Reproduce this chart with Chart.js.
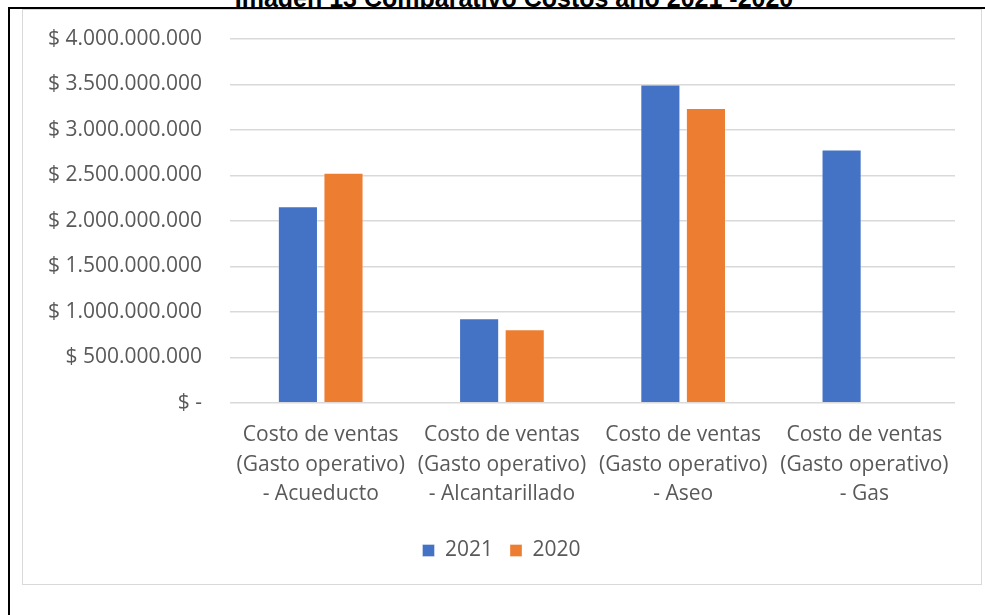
<!DOCTYPE html>
<html>
<head>
<meta charset="utf-8">
<script src="https://cdn.jsdelivr.net/npm/chart.js@4/dist/chart.umd.min.js"></script>
<style>
  html, body { margin: 0; padding: 0; background: #fff; }
  body { width: 985px; height: 615px; position: relative; overflow: hidden; }
  #title { position: absolute; left: 0; width: 1028px; top: -16px; text-align: center;
           font: bold 25px "Liberation Sans", Arial, sans-serif; color: #000; line-height: 28px; white-space: nowrap; }
  #topline { position: absolute; left: 8px; top: 7px; width: 977px; height: 2px; background: #000; }
  #leftline { position: absolute; left: 8px; top: 7px; width: 2px; height: 608px; background: #000; }
  #frame { position: absolute; left: 22px; top: 9px; width: 960px; height: 576px; border: 1px solid #d9d9d9; box-sizing: border-box; background: #fff; }
  #wrap { position: absolute; left: 23px; top: 10px; width: 958px; height: 573px; }
</style>
</head>
<body>
<div id="title">Imagen 13 Comparativo Costos año 2021 -2020</div>
<div id="topline"></div>
<div id="leftline"></div>
<div id="frame"></div>
<div id="wrap"><canvas id="c"></canvas></div>
<script>
const categories = [
  ["Costo de ventas", "(Gasto operativo)", "- Acueducto"],
  ["Costo de ventas", "(Gasto operativo)", "- Alcantarillado"],
  ["Costo de ventas", "(Gasto operativo)", "- Aseo"],
  ["Costo de ventas", "(Gasto operativo)", "- Gas"]
];
const seriesNames = ["2021", "2020"];
const values2021 = [2160000000, 930000000, 3500000000, 2785000000];
const values2020 = [2530000000, 810000000, 3240000000, null];
const yTicks = [0, 500000000, 1000000000, 1500000000, 2000000000, 2500000000, 3000000000, 3500000000, 4000000000];

function fmt(v) {
  if (v === 0) return "$ -";
  return "$ " + Math.round(v).toString().replace(/\B(?=(\d{3})+(?!\d))/g, ".");
}

const FONT = { family: "'Open Sans', sans-serif", size: 21 };
const XFONT = { family: "'Open Sans', sans-serif", size: 21, lineHeight: 1.4 };
const TXT = "#595959";

new Chart(document.getElementById("c"), {
  type: "bar",
  data: {
    labels: categories,
    datasets: [
      { label: seriesNames[0], data: values2021, backgroundColor: "#4472C4", borderColor: "rgba(255,255,255,0.35)", borderWidth: 1 },
      { label: seriesNames[1], data: values2020, backgroundColor: "#ED7D31", borderColor: "rgba(255,255,255,0.35)", borderWidth: 1 }
    ]
  },
  options: {
    responsive: true,
    maintainAspectRatio: false,
    animation: false,
    devicePixelRatio: 1,
    layout: { padding: { left: 25, right: 26, top: 29, bottom: 12 } },
    datasets: { bar: { categoryPercentage: 0.503, barPercentage: 0.88 } },
    plugins: {
      legend: {
        position: "bottom",
        labels: { font: FONT, color: TXT, boxWidth: 12, boxHeight: 12, padding: 17 }
      },
      tooltip: { enabled: false }
    },
    scales: {
      x: {
        grid: { display: false, drawTicks: false },
        border: { display: false },
        ticks: { font: XFONT, color: TXT, maxRotation: 0, autoSkip: false, padding: 18 },
        afterFit: (scale) => { scale.height -= 4; }
      },
      y: {
        min: 0, max: 4000000000,
        afterBuildTicks: (axis) => { axis.ticks = yTicks.map(v => ({ value: v })); },
        grid: { color: "#d9d9d9", lineWidth: 1.5, drawTicks: true, tickLength: 28, tickColor: "rgba(0,0,0,0)" },
        border: { display: false },
        ticks: { font: FONT, color: TXT, padding: 0, callback: (v) => fmt(v) }
      }
    }
  }
});
</script>
</body>
</html>
